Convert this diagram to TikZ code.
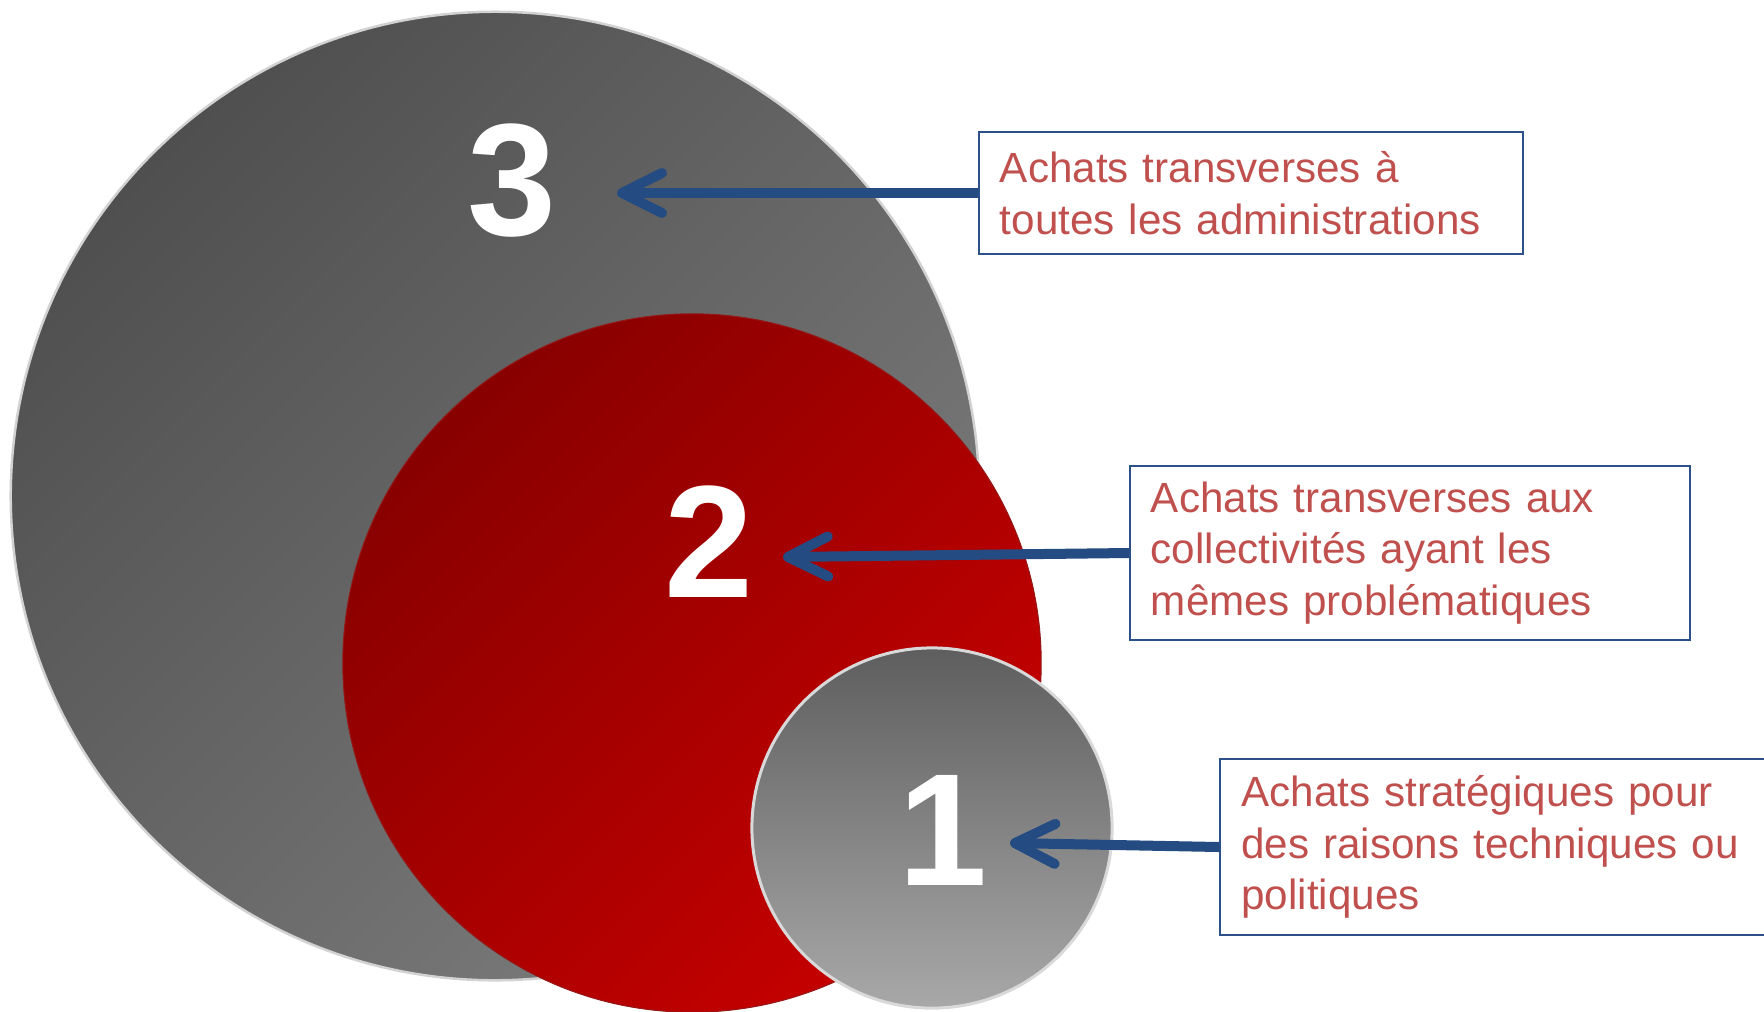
\documentclass[tikz,border=0pt]{standalone}
\usepackage{fontspec}
\setmainfont{Liberation Sans}
\usetikzlibrary{arrows.meta}
\definecolor{boxred}{HTML}{C0504D}
\definecolor{boxblue}{HTML}{2C5189}
\definecolor{arrowblue}{HTML}{244C82}
\definecolor{greydark}{HTML}{4F4F4F}
\definecolor{greylight}{HTML}{7C7C7C}
\definecolor{reddark}{HTML}{880000}
\definecolor{redlight}{HTML}{C60000}
\definecolor{smalltop}{HTML}{5E5E5E}
\definecolor{smallbottom}{HTML}{A8A8A8}
\tikzset{
  disc/.style={circle, minimum size=#1, inner sep=0pt},
  num/.style={text=white, inner sep=0pt, font=\fontsize{45.5}{45.5}\selectfont\bfseries},
  label box/.style={draw=boxblue, line width=0.02cm, fill=white, text=boxred,
    align=left, inner xsep=0.21cm, inner ysep=0pt, font=\fontsize{12}{14.7}\selectfont},
  pointer/.style={draw=arrowblue, line width=0.1cm,
    -{Straight Barb[round, length=0.4cm, width=0.4cm]}}
}
\begin{document}
\begin{tikzpicture}[x=0.01cm, y=-0.01cm]
  \useasboundingbox (0,0) rectangle (1764,1011);
  \node[disc=9.68cm, draw=gray!35, line width=0.025cm, top color=greydark,
    bottom color=greylight, shading angle=45] (c3) at (495,496) {};
  \node[disc=6.98cm, draw=reddark!90, line width=0.01cm, top color=reddark,
    bottom color=redlight, shading angle=45] (c2) at (692,663) {};
  \node[disc=3.6cm, draw=gray!30, line width=0.03cm, top color=smalltop,
    bottom color=smallbottom] (c1) at (932,828) {};

  \node[num] (n3) at (512,181) {3};
  \node[num] (n2) at (709,542) {2};
  \node[num] (n1) at (943,830) {1};

  \node[label box, text width=5.02cm, minimum height=1.22cm] (b3) at (1251,193)
    {Achats transverses à\\toutes les administrations};
  \node[label box, text width=5.18cm, minimum height=1.74cm] (b2) at (1410,553)
    {Achats transverses aux\\collectivités ayant les\\mêmes problématiques};
  \node[label box, text width=5.27cm, minimum height=1.75cm] (b1) at (1505,847)
    {Achats stratégiques pour\\des raisons techniques ou\\politiques};

  \coordinate (t3) at (617,193);
  \coordinate (t2) at (783,557);
  \coordinate (t1) at (1010,843);
  \begin{scope}[pointer]
    \draw (b3.west) -- (t3);
    \draw (b2.west) -- (t2);
    \draw (b1.west) -- (t1);
  \end{scope}
\end{tikzpicture}
\end{document}
